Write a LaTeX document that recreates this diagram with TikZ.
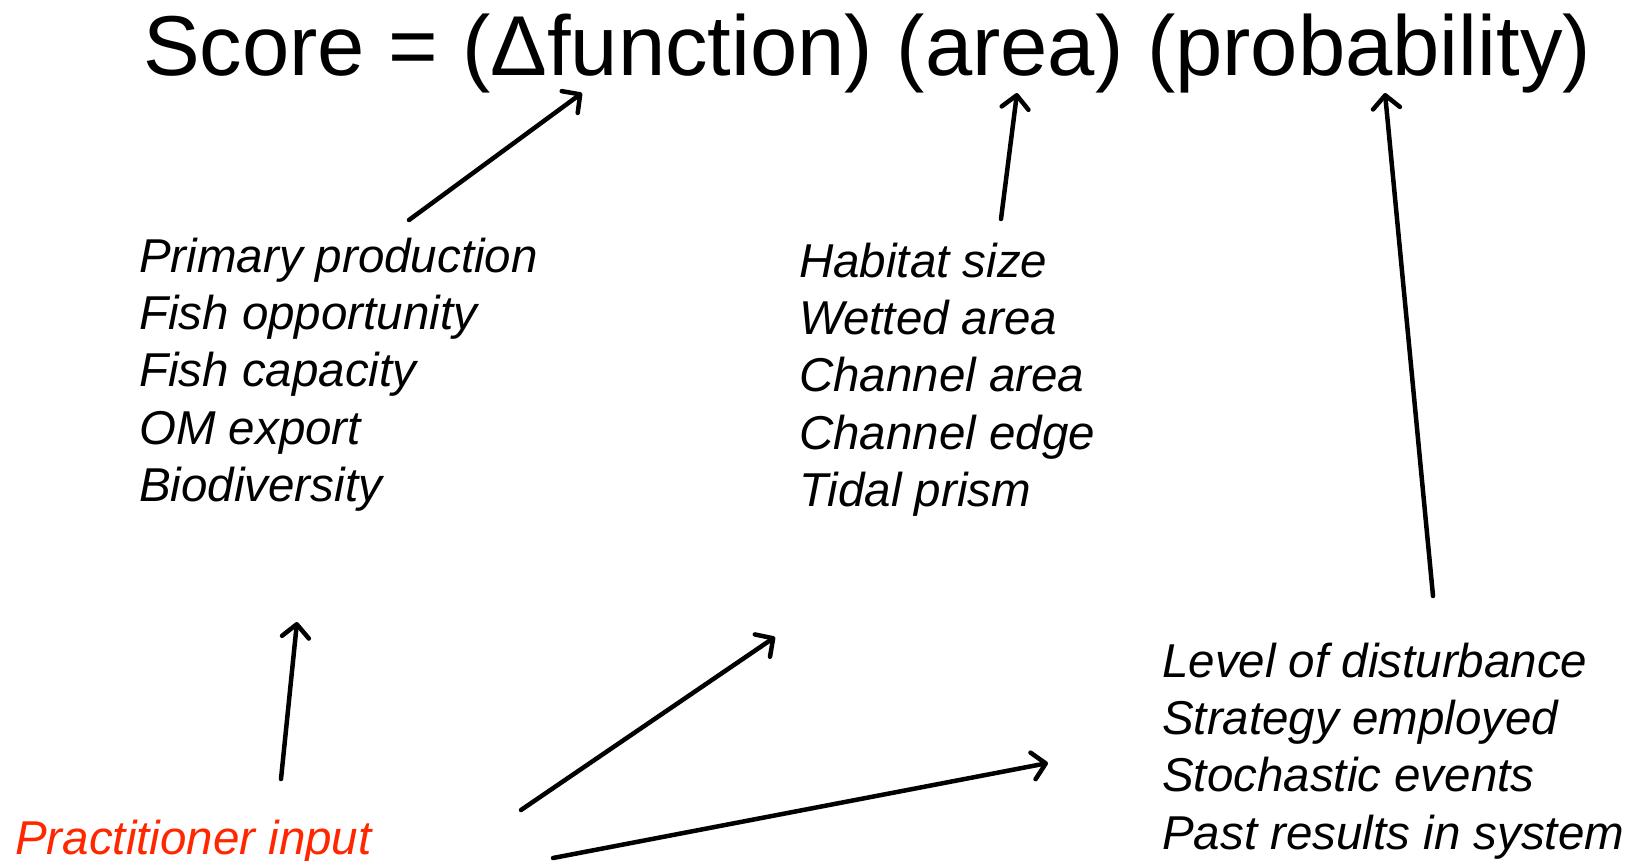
\documentclass[tikz,border=0pt]{standalone}
\usepackage{fontspec}
\setmainfont{Liberation Sans}
\usetikzlibrary{arrows.meta}
\definecolor{inputred}{RGB}{255,38,0}
\begin{document}
\begin{tikzpicture}[x=1pt,y=-1pt,
  title/.style={anchor=base west, inner sep=0pt, font=\fontsize{85}{92}\selectfont},
  item/.style={anchor=base west, inner sep=0pt, font=\fontsize{47.5}{57.4}\selectfont\itshape},
  link/.style={line width=4.5pt, line cap=round,
    -{Straight Barb[length=13pt,width=27pt,line cap=round,line join=round]}}
]
\useasboundingbox (0,0) rectangle (1637,860);

% formula
\node[title] (score) at (143,75) {Score = (Δfunction) (area) (probability)};

% factor lists
\node[item] (funclist) at (139,272) {\begin{tabular}[t]{@{}l@{}}
  Primary production\\ Fish opportunity\\ Fish capacity\\ OM export\\ Biodiversity
\end{tabular}};
\node[item] (arealist) at (799,277) {\begin{tabular}[t]{@{}l@{}}
  Habitat size\\ Wetted area\\ Channel area\\ Channel edge\\ Tidal prism
\end{tabular}};
\node[item] (problist) at (1162,677) {\begin{tabular}[t]{@{}l@{}}
  Level of disturbance\\ Strategy employed\\ Stochastic events\\ Past results in system
\end{tabular}};
\node[item, text=inputred] (input) at (15,854) {Practitioner input};

% arrow ends
\coordinate (f0) at (409,220);  \coordinate (f1) at (582,93);
\coordinate (a0) at (1001,219); \coordinate (a1) at (1017,93);
\coordinate (p0) at (1433,596); \coordinate (p1) at (1385,93);
\coordinate (i0) at (281,779);  \coordinate (i1) at (297,622);
\coordinate (j0) at (521,810);  \coordinate (j1) at (775,637);
\coordinate (k0) at (553,858);  \coordinate (k1) at (1048,763);

\draw[link] (f0) -- (f1);
\draw[link] (a0) -- (a1);
\draw[link] (p0) -- (p1);
\draw[link] (i0) -- (i1);
\draw[link] (j0) -- (j1);
\draw[link] (k0) -- (k1);
\end{tikzpicture}
\end{document}
